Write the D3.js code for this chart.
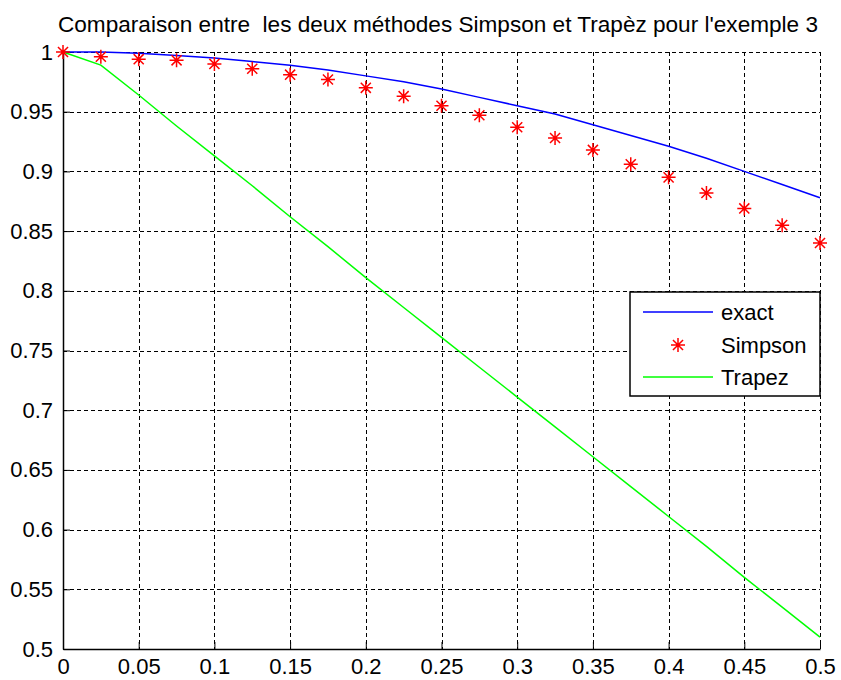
<!DOCTYPE html>
<html>
<head>
<meta charset="utf-8">
<script src="https://cdn.jsdelivr.net/npm/d3@7"></script>
<style>
  body { margin: 0; background: #fff; }
  text { font-family: "Liberation Sans", Arial, sans-serif; fill: #000; }
</style>
</head>
<body>
<div id="chart"></div>
<script>
// values
var xs = [0, 0.025, 0.05, 0.075, 0.1, 0.125, 0.15, 0.175, 0.2, 0.225, 0.25,
          0.275, 0.3, 0.325, 0.35, 0.375, 0.4, 0.425, 0.45, 0.475, 0.5];
var exact = [1, 1.000, 0.999, 0.997, 0.995, 0.992, 0.989, 0.985, 0.980, 0.975, 0.969,
             0.962, 0.955, 0.948, 0.939, 0.930, 0.921, 0.911, 0.900, 0.889, 0.878];
var simpson = [1, 0.996, 0.994, 0.993, 0.990, 0.986, 0.981, 0.977, 0.970, 0.963, 0.955,
               0.947, 0.937, 0.928, 0.918, 0.906, 0.895, 0.882, 0.869, 0.855, 0.840];
var trapez = [1, 0.989, 0.964, 0.938, 0.913, 0.888, 0.862, 0.837, 0.811, 0.786, 0.761,
              0.736, 0.711, 0.686, 0.661, 0.636, 0.611, 0.586, 0.560, 0.535, 0.510];
var xTicks = [0, 0.05, 0.1, 0.15, 0.2, 0.25, 0.3, 0.35, 0.4, 0.45, 0.5];
var yTicks = [0.5, 0.55, 0.6, 0.65, 0.7, 0.75, 0.8, 0.85, 0.9, 0.95, 1];
var legendNames = ["exact", "Simpson", "Trapez"];
var title = "Comparaison entre  les deux méthodes Simpson et Trapèz pour l'exemple 3";

var width = 841, height = 680;
var margin = {top: 52, right: 21, bottom: 31, left: 63};
var w = width - margin.left - margin.right,
    h = height - margin.top - margin.bottom;

var svg = d3.select("#chart").append("svg")
    .attr("width", width)
    .attr("height", height);

var g = svg.append("g")
    .attr("transform", "translate(" + margin.left + "," + margin.top + ")");

var x = d3.scaleLinear().domain([0, 0.5]).range([0, w]);
var y = d3.scaleLinear().domain([0.5, 1]).range([h, 0]);

// grid (dashed, black)
g.append("g").selectAll("line")
    .data(xTicks.slice(1))
    .enter().append("line")
    .attr("x1", function(d) { return Math.round(x(d)) + 0.5; })
    .attr("x2", function(d) { return Math.round(x(d)) + 0.5; })
    .attr("y1", 0).attr("y2", h)
    .attr("stroke", "#000").attr("stroke-dasharray", "4,3");
g.append("g").selectAll("line")
    .data(yTicks.slice(1))
    .enter().append("line")
    .attr("y1", function(d) { return Math.round(y(d)) + 0.5; })
    .attr("y2", function(d) { return Math.round(y(d)) + 0.5; })
    .attr("x1", 0).attr("x2", w)
    .attr("stroke", "#000").attr("stroke-dasharray", "4,3");

// axes (ticks inside)
var xAxis = g.append("g")
    .attr("transform", "translate(0," + h + ")")
    .call(d3.axisBottom(x).tickValues(xTicks).tickSizeInner(-7).tickSizeOuter(0)
      .tickPadding(9).tickFormat(function(d) { return String(d); }));
var yAxis = g.append("g")
    .call(d3.axisLeft(y).tickValues(yTicks).tickSizeInner(-7).tickSizeOuter(0)
      .tickPadding(10).tickFormat(function(d) { return String(d); }));
[xAxis, yAxis].forEach(function(a) {
  a.select(".domain").attr("stroke", "#000").attr("stroke-width", 1.5);
  a.selectAll(".tick line").attr("stroke", "#000");
  a.selectAll("text").style("font-size", "22px")
    .style("font-family", "'Liberation Sans', Arial, sans-serif");
});

var idx = d3.range(xs.length);

// exact
g.append("path")
    .datum(idx)
    .attr("fill", "none").attr("stroke", "#0000ff").attr("stroke-width", 1.5)
    .attr("d", d3.line().x(function(i) { return x(xs[i]); }).y(function(i) { return y(exact[i]); }));

// trapez
g.append("path")
    .datum(idx)
    .attr("fill", "none").attr("stroke", "#00ff00").attr("stroke-width", 1.5)
    .attr("d", d3.line().x(function(i) { return x(xs[i]); }).y(function(i) { return y(trapez[i]); }));

// star marker like matlab '*'
function star(sel, r) {
  var p = "M" + (-r) + ",0H" + r + "M0," + (-r) + "V" + r;
  var d = r * 0.72;
  p += "M" + (-d) + "," + (-d) + "L" + d + "," + d + "M" + (-d) + "," + d + "L" + d + "," + (-d);
  sel.append("path").attr("d", p).attr("stroke", "#ff0000").attr("stroke-width", 1.5).attr("fill", "none");
}

g.append("g").selectAll("g")
    .data(idx)
    .enter().append("g")
    .attr("transform", function(i) { return "translate(" + x(xs[i]) + "," + y(simpson[i]) + ")"; })
    .each(function() { star(d3.select(this), 7); });

// title
svg.append("text")
    .attr("x", 438).attr("y", 32)
    .attr("text-anchor", "middle")
    .attr("xml:space", "preserve")
    .style("white-space", "pre")
    .attr("textLength", 760)
    .attr("lengthAdjust", "spacingAndGlyphs")
    .style("font-size", "22px")
    .text(title);

// legend
var lg = svg.append("g").attr("transform", "translate(630,292)");
lg.append("rect").attr("width", 190).attr("height", 104)
    .attr("fill", "#fff").attr("stroke", "#000").attr("stroke-width", 1.5);
var rows = [20, 53, 85];
var colors = ["#0000ff", "#ff0000", "#00ff00"];
legendNames.forEach(function(name, i) {
  if (i === 1) {
    var s = lg.append("g").attr("transform", "translate(48," + rows[i] + ")");
    star(s, 7);
  } else {
    lg.append("line").attr("x1", 13).attr("x2", 83)
      .attr("y1", rows[i]).attr("y2", rows[i])
      .attr("stroke", colors[i]).attr("stroke-width", 1.5);
  }
  lg.append("text").attr("x", 91).attr("y", rows[i] + 8)
    .style("font-size", "22px").text(name);
});
</script>
</body>
</html>
